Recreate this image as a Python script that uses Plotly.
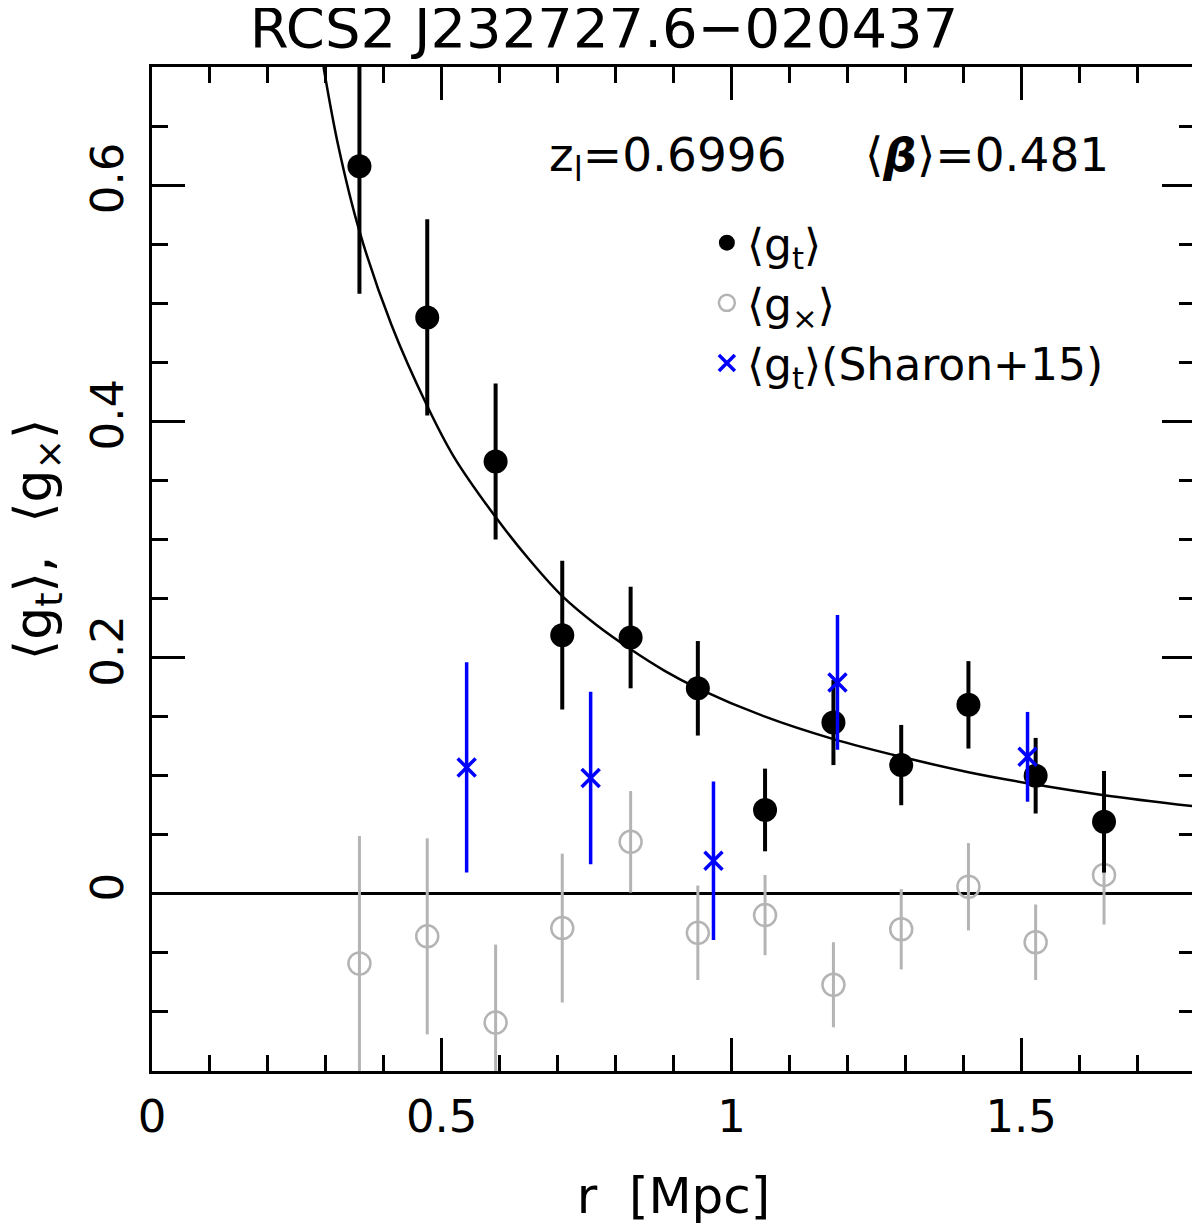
import plotly.graph_objects as go

# radial bins [Mpc]
r_bins = [0.358, 0.475, 0.593, 0.708, 0.826, 0.942, 1.058, 1.176, 1.293, 1.409, 1.525, 1.643]

# tangential shear <g_t> and error
gt = [0.616, 0.488, 0.366, 0.219, 0.217, 0.174, 0.071, 0.145, 0.109, 0.160, 0.100, 0.061]
gt_err = [0.108, 0.083, 0.066, 0.063, 0.043, 0.040, 0.035, 0.036, 0.034, 0.037, 0.032, 0.043]

# cross shear <g_x> and error
gx = [-0.059, -0.036, -0.109, -0.029, 0.044, -0.033, -0.018, -0.077, -0.030, 0.006, -0.041, 0.016]
gx_err = [0.108, 0.083, 0.066, 0.063, 0.043, 0.040, 0.034, 0.036, 0.034, 0.037, 0.032, 0.042]

# Sharon+15 points
r_sh = [0.543, 0.757, 0.969, 1.183, 1.511]
gt_sh = [0.107, 0.098, 0.028, 0.179, 0.116]
gt_sh_err = [0.089, 0.073, 0.067, 0.057, 0.038]

# best-fit model curve
r_fit = [0.296, 0.322, 0.358, 0.413, 0.475, 0.521, 0.593, 0.651, 0.708, 0.766,
         0.826, 0.884, 0.942, 1.058, 1.176, 1.293, 1.409, 1.525, 1.643, 1.8]
g_fit = [0.700, 0.632, 0.561, 0.482, 0.413, 0.370, 0.319, 0.283, 0.252, 0.228,
         0.207, 0.189, 0.174, 0.150, 0.131, 0.116, 0.103, 0.0925, 0.0835, 0.074]

x_ticks = [0, 0.5, 1, 1.5]
x_labels = ["0", "0.5", "1", "1.5"]
y_ticks = [0, 0.2, 0.4, 0.6]
y_labels = ["0", "0.2", "0.4", "0.6"]

FONT = "DejaVu Sans"
GREY = "#b4b4b4"
BLUE = "#0000ff"

fig = go.Figure()

fig.add_trace(go.Scatter(
    x=r_fit, y=g_fit, mode="lines", line=dict(color="black", width=2.5, shape="spline"),
    showlegend=False, hoverinfo="skip"))

fig.add_trace(go.Scatter(
    x=r_bins, y=gx, mode="markers", name="⟨g<sub>×</sub>⟩", legendrank=2,
    marker=dict(symbol="circle-open", size=22, color=GREY, line=dict(color=GREY, width=2.5)),
    error_y=dict(type="data", array=gx_err, color=GREY, thickness=3, width=0)))

fig.add_trace(go.Scatter(
    x=r_bins, y=gt, mode="markers", name="⟨g<sub>t</sub>⟩", legendrank=1,
    marker=dict(symbol="circle", size=24, color="black"),
    error_y=dict(type="data", array=gt_err, color="black", thickness=4, width=0)))

fig.add_trace(go.Scatter(
    x=r_sh, y=gt_sh, mode="markers", name="⟨g<sub>t</sub>⟩(Sharon+15)", legendrank=3,
    marker=dict(symbol="x-thin", size=18, color=BLUE, line=dict(color=BLUE, width=3.5)),
    error_y=dict(type="data", array=gt_sh_err, color=BLUE, thickness=3.5, width=0)))

fig.add_annotation(x=0.379, y=0.942, xref="paper", yref="paper", showarrow=False,
                   xanchor="left", text="z<sub>l</sub>=0.6996", font=dict(size=47, color="black"))
fig.add_annotation(x=0.682, y=0.942, xref="paper", yref="paper", showarrow=False,
                   xanchor="left", text="⟨<b><i>β</i></b>⟩=0.481", font=dict(size=47, color="black"))

# y-axis title as a rotated annotation so it can sit where the original has it
fig.add_annotation(x=-0.110, y=0.53, xref="paper", yref="paper", showarrow=False,
                   textangle=-90, xanchor="center", yanchor="middle",
                   text="⟨g<sub>t</sub>⟩,  ⟨g<sub>×</sub>⟩", font=dict(size=52, color="black"))

axis_common = dict(
    showline=True, linecolor="black", linewidth=3, mirror="allticks",
    ticks="inside", ticklen=33, tickwidth=2.5, tickcolor="black",
    showgrid=False, tickfont=dict(size=45, color="black"),
)

fig.update_xaxes(
    range=[0, 1.8], tickvals=x_ticks, ticktext=x_labels, zeroline=False, ticklabelstandoff=4,
    minor=dict(dtick=0.1, ticks="inside", ticklen=16, tickwidth=2.5, tickcolor="black", showgrid=False),
    title=dict(text="r  [Mpc]", font=dict(size=50, color="black"), standoff=36),
    **axis_common)

fig.update_yaxes(
    range=[-0.15, 0.7], tickvals=y_ticks, ticktext=y_labels, tickangle=-90, ticklabelstandoff=8,
    zeroline=True, zerolinecolor="black", zerolinewidth=2.5,
    minor=dict(dtick=0.05, ticks="inside", ticklen=16, tickwidth=2.5, tickcolor="black", showgrid=False),
    **axis_common)

fig.update_layout(
    width=1192, height=1220,
    margin=dict(l=144, r=2, t=59, b=157),
    paper_bgcolor="white", plot_bgcolor="white",
    font=dict(family=FONT, color="black"),
    title=dict(text="RCS2 J232727.6−020437", x=0.5, xanchor="center", y=0.9845, yanchor="middle",
               font=dict(size=56, color="black")),
    legend=dict(x=0.532, y=0.86, xanchor="left", yanchor="top", bgcolor="rgba(0,0,0,0)",
                font=dict(size=44, color="black"), traceorder="normal", tracegroupgap=0),
)

fig.write_html("out.html")
